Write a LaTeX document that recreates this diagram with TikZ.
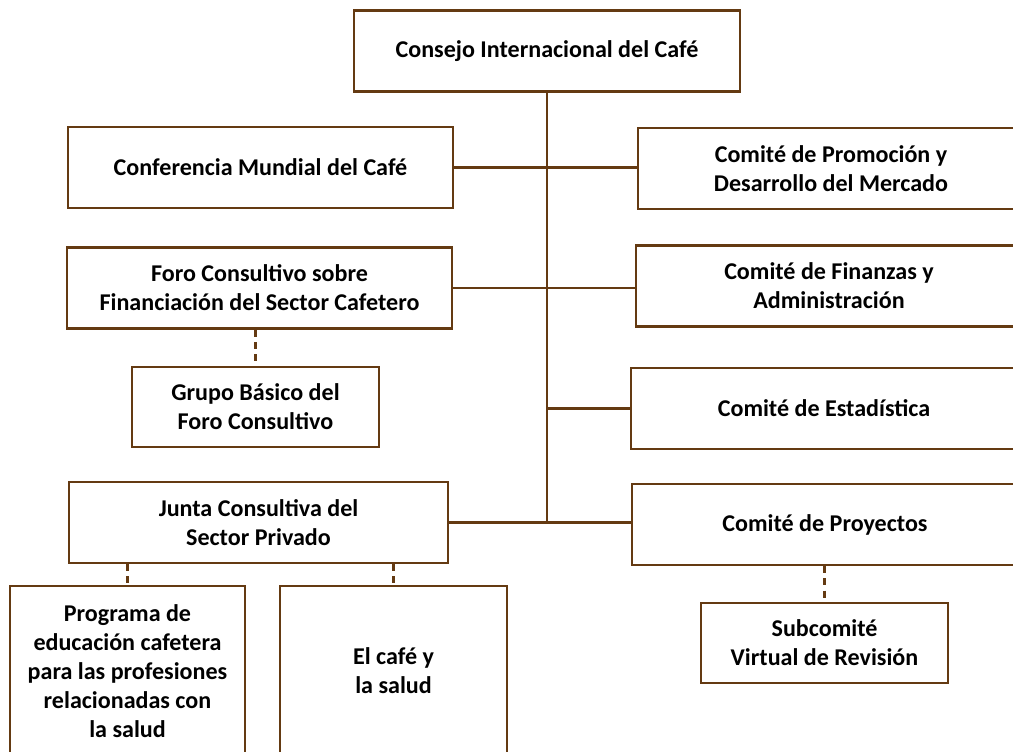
\documentclass[tikz,border=0pt]{standalone}
\usepackage{fontspec}
\setmainfont{Carlito}
\usepackage{xcolor}
\definecolor{cafe}{RGB}{100, 58, 18}
\usepackage{tikz}
\usetikzlibrary{positioning, calc}
\tikzset{
  orgbox/.style={draw=cafe, line width=1.3pt, fill=white,
    minimum width=7.72cm, minimum height=1.62cm, inner sep=0pt,
    align=center, font=\fontsize{13.7}{16.5}\selectfont\bfseries},
  subbox/.style={orgbox, minimum width=4.94cm, minimum height=1.6cm},
  tallbox/.style={orgbox, minimum width=4.7cm, minimum height=3.4cm},
  mainline/.style={draw=cafe, line width=1.3pt},
  subline/.style={draw=cafe, line width=1.3pt, dash pattern=on 4pt off 3pt}
}
\begin{document}
\begin{tikzpicture}[x=0.02cm, y=-0.02cm]
  \useasboundingbox (0,0) rectangle (1013,751);

  %% Council
  \node[orgbox] (consejo) at (547,51) {Consejo Internacional del Café};

  %% Left column
  \node[orgbox, minimum width=7.7cm] (conferencia) at (260.5,167.5) {Conferencia Mundial del Café};
  \node[orgbox, minimum width=7.7cm] (foro) at (259.5,288) {Foro Consultivo sobre\\Financiación del Sector Cafetero};
  \node[subbox] (grupo) at (255.5,407) {Grupo Básico del\\Foro Consultivo};
  \node[orgbox, minimum width=7.58cm] (junta) at (258.5,522.5) {Junta Consultiva del\\Sector Privado};
  \node[tallbox] (programa) at (127.5,671) {Programa de\\educación cafetera\\para las profesiones\\relacionadas con\\la salud};
  \node[tallbox, minimum width=4.54cm] (elcafe) at (393.5,671) {El café y\\la salud};

  %% Right column
  \node[orgbox] (promocion) at (831,168.5) {Comité de Promoción y\\Desarrollo del Mercado};
  \node[orgbox] (finanzas) at (829,286) {Comité de Finanzas y\\Administración};
  \node[orgbox] (estadistica) at (824,408.5) {Comité de Estadística};
  \node[orgbox] (proyectos) at (825,524.5) {Comité de Proyectos};
  \node[subbox] (subcomite) at (824.5,643) {Subcomité\\Virtual de Revisión};

  %% Solid links
  \draw[mainline] (consejo.south) -- (consejo.south |- junta.east);
  \draw[mainline] (conferencia.east) -- (conferencia.east -| promocion.west);
  \draw[mainline] (foro.east) -- (foro.east -| finanzas.west);
  \draw[mainline] (consejo.south |- estadistica.west) -- (estadistica.west);
  \draw[mainline] (junta.east) -- (junta.east -| proyectos.west);

  %% Dashed links
  \draw[subline] (grupo.north |- foro.south) -- (grupo.north);
  \draw[subline] (programa.north |- junta.south) -- (programa.north);
  \draw[subline] (elcafe.north |- junta.south) -- (elcafe.north);
  \draw[subline] (subcomite.north |- proyectos.south) -- (subcomite.north);

\end{tikzpicture}
\end{document}
